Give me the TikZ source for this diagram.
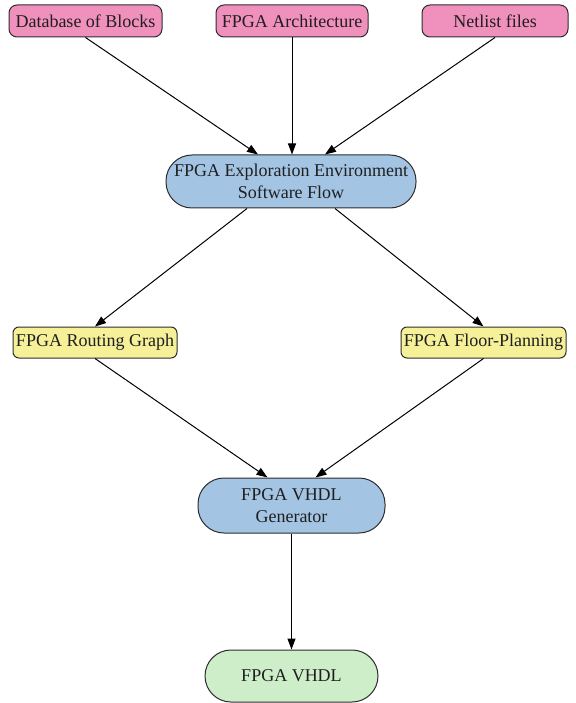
\documentclass[tikz,border=0pt]{standalone}
\usepackage{fontspec}
\setmainfont{Liberation Serif}
\usetikzlibrary{arrows.meta}
\definecolor{pinkfill}{RGB}{240,144,188}
\definecolor{bluefill}{RGB}{164,196,228}
\definecolor{yellowfill}{RGB}{246,240,152}
\definecolor{greenfill}{RGB}{206,238,202}
\definecolor{edgegray}{RGB}{45,45,45}
\begin{document}
\begin{tikzpicture}[x=1pt,y=-1pt,
  every node/.style={font=\fontsize{18}{22.5}\selectfont, text=black!88, inner sep=0pt, align=center},
  src/.style={draw=edgegray, line width=1pt, fill=pinkfill, rounded corners=8pt, minimum height=32pt},
  pill/.style={draw=edgegray, line width=1pt, fill=bluefill, rounded corners=26pt},
  midbox/.style={draw=edgegray, line width=1pt, fill=yellowfill, rounded corners=6pt, minimum height=31pt},
  outpill/.style={draw=edgegray, line width=1pt, fill=greenfill, rounded corners=26pt},
  conn/.style={draw=black, line width=1pt, -{Triangle[length=11pt,width=8pt]}}
]
\useasboundingbox (0,0) rectangle (575,703);
\node[src, minimum width=153pt] (db) at (85.5,21) {Database of Blocks};
\node[src, minimum width=152pt] (arch) at (292,21) {FPGA Architecture};
\node[src, minimum width=146pt] (net) at (495,21) {Netlist files};
\node[pill, minimum width=250pt, minimum height=53pt] (expl) at (291,181.5) {FPGA Exploration Environment\\Software Flow};
\node[midbox, minimum width=164pt] (rout) at (95,342.5) {FPGA Routing Graph};
\node[midbox, minimum width=165pt] (floor) at (483.5,342.5) {FPGA Floor-Planning};
\node[pill, minimum width=187pt, minimum height=55pt] (gen) at (291.5,505.5) {FPGA VHDL\\Generator};
\node[outpill, minimum width=173pt, minimum height=52pt] (vhdl) at (291.5,676) {FPGA VHDL};
\draw[conn] (db.south) -- ([xshift=-33pt]expl.north);
\draw[conn] (arch.south) -- (expl.north -| arch.south);
\draw[conn] (net.south) -- ([xshift=34pt]expl.north);
\draw[conn] ([xshift=-44pt]expl.south) -- (rout.north);
\draw[conn] ([xshift=44pt]expl.south) -- (floor.north);
\draw[conn] (rout.south) -- ([xshift=-24pt]gen.north);
\draw[conn] (floor.south) -- ([xshift=24pt]gen.north);
\draw[conn] (gen.south) -- (vhdl.north);
\end{tikzpicture}
\end{document}
